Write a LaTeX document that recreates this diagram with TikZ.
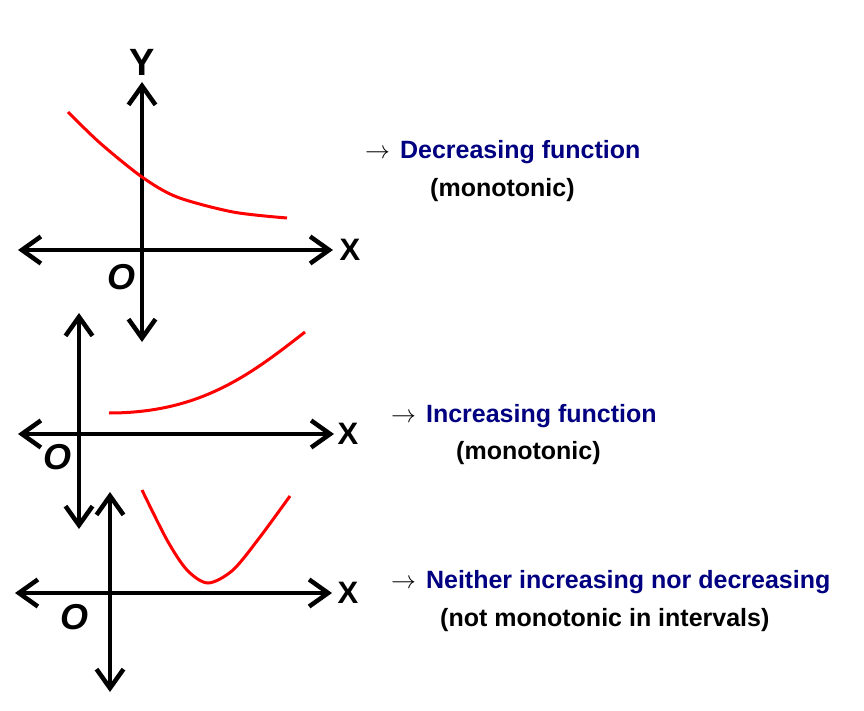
\documentclass[tikz,border=0pt]{standalone}
\usepackage{fontspec}
\setmainfont{Liberation Sans}
\usetikzlibrary{arrows.meta,positioning}
\definecolor{navytext}{RGB}{0,0,128}
\begin{document}
\begin{tikzpicture}[
  x=1pt, y=-1pt,
  axis/.style={line width=4.5pt, {Straight Barb[length=19pt,width=27pt]}-{Straight Barb[length=19pt,width=27pt]}},
  curve/.style={red, line width=3pt},
  axlabel/.style={font=\bfseries\fontsize{31}{31}\selectfont, inner sep=0pt},
  origin/.style={font=\bfseries\itshape\fontsize{36}{36}\selectfont, inner sep=0pt},
  head/.style={font=\bfseries\fontsize{25}{30}\selectfont, inner sep=0pt, anchor=west},
  sub/.style={font=\bfseries\fontsize{25}{30}\selectfont, inner sep=0pt, anchor=west}
]
\useasboundingbox (0,0) rectangle (864,711);

% decreasing
\coordinate (yatop) at (142,82);
\coordinate (yabot) at (142,342);
\coordinate (xaleft) at (18,250);
\coordinate (xaright) at (333,250);
\draw[axis] (yabot) -- (yatop);
\draw[axis] (xaleft) -- (xaright);
\node[axlabel, font=\bfseries\fontsize{38}{38}\selectfont] (ya) at (142,62) {Y};
\node[axlabel] (xa) at (350,250) {X};
\node[origin] (oa) at (121,277) {O};
\draw[curve] plot[smooth] coordinates {(68,112) (100,143) (142,177) (177,197) (233,212) (287,218)};
\node[head] (dec) at (365,152) {$\rightarrow$\hspace{10pt}\textcolor{navytext}{Decreasing function}};
\node[sub] (decm) at (430,190) {(monotonic)};

% increasing
\coordinate (ybtop) at (79,313);
\coordinate (ybbot) at (79,529);
\coordinate (xbleft) at (18,434);
\coordinate (xbright) at (334,434);
\draw[axis] (ybbot) -- (ybtop);
\draw[axis] (xbleft) -- (xbright);
\node[axlabel] (xb) at (348,434) {X};
\node[origin] (ob) at (58,457) {O};
\draw[curve] (109,413) .. controls (200,413) and (250,375) .. (305,332);
\node[head] (inc) at (391,416) {$\rightarrow$\hspace{10pt}\textcolor{navytext}{Increasing function}};
\node[sub] (incm) at (456,453) {(monotonic)};

% neither
\coordinate (yctop) at (110,492);
\coordinate (ycbot) at (110,692);
\coordinate (xcleft) at (15,593);
\coordinate (xcright) at (332,593);
\draw[axis] (ycbot) -- (yctop);
\draw[axis] (xcleft) -- (xcright);
\node[axlabel] (xc) at (348,593) {X};
\node[origin] (oc) at (74,617) {O};
\draw[curve] plot[smooth] coordinates {(142,490) (167,540) (187,570) (208,583) (233,570) (260,537) (290,496)};
\node[head] (nei) at (391,582) {$\rightarrow$\hspace{10pt}\textcolor{navytext}{Neither increasing nor decreasing}};
\node[sub] (neim) at (440,620) {(not monotonic in intervals)};
\end{tikzpicture}
\end{document}
